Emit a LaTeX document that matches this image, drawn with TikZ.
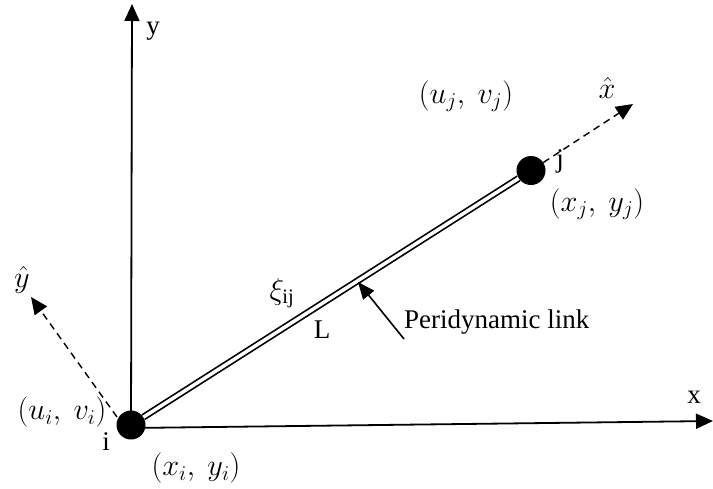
\documentclass[tikz,border=0pt]{standalone}
\usepackage{amsmath}
\usepackage{fontspec}
\setmainfont{Liberation Serif}
\usetikzlibrary{arrows.meta, positioning}

\begin{document}
\begin{tikzpicture}[x=1pt, y=-1pt, >={Triangle[length=17pt, width=15pt]},
  particle/.style={circle, fill=black, minimum size=29pt, inner sep=0pt},
  axis/.style={->, line width=1.8pt},
  localaxis/.style={->, dashed, line width=1.4pt, dash pattern=on 7pt off 5pt},
  bond/.style={double=white, double distance=3.5pt, line width=1.7pt},
  lbl/.style={font=\fontsize{27}{31}\selectfont, inner sep=1pt},
  mlbl/.style={font=\fontsize{24}{28}\selectfont, inner sep=1pt, scale=1.22, transform shape}]

\useasboundingbox (0,0) rectangle (713,488);

% particles
\node[particle] (pi) at (131,425) {};
\node[particle] (pj) at (531,170.5) {};

% global axes
\coordinate (ytip) at (132,4);
\coordinate (xtip) at (713,421);
\draw[axis] (pi.center) -- (ytip);
\draw[axis] ([yshift=-3pt]pi.center) -- (xtip);

% local axes
\coordinate (xhat) at (633,104);
\coordinate (ybase) at (117,417);
\coordinate (yhat) at (31,297);
\draw[localaxis] (pj) -- (xhat);
\draw[localaxis] (ybase) -- (yhat);

% peridynamic link
\draw[bond] (pi) -- (pj);
\coordinate (linktail) at (404,339);
\coordinate (linktip) at (358,282);
\draw[->, line width=1.6pt, >={Triangle[length=17pt, width=14pt]}] (linktail) -- (linktip);

% labels
\node[lbl] (ylbl) at (153,31) {y};
\node[lbl] (xlbl) at (694,397) {x};
\node[lbl] (ilbl) at (106,442) {i};
\node[lbl] (jlbl) at (560,161) {j};
\node[lbl] (Llbl) at (322,330) {L};
\node[lbl, anchor=west] (linklbl) at (403,322) {Peridynamic link};
\node[mlbl] (xi) at (282,293) {$\xi_{\text{ij}}$};
\node[mlbl] (xhatlbl) at (607,88) {$\hat{x}$};
\node[mlbl] (yhatlbl) at (22,280) {$\hat{y}$};
\node[mlbl] (uivi) at (62,412) {$(u_i,\ v_i)$};
\node[mlbl] (xiyi) at (196,468) {$(x_i,\ y_i)$};
\node[mlbl] (ujvj) at (466,96) {$(u_j,\ v_j)$};
\node[mlbl] (xjyj) at (597,204) {$(x_j,\ y_j)$};

\end{tikzpicture}
\end{document}
